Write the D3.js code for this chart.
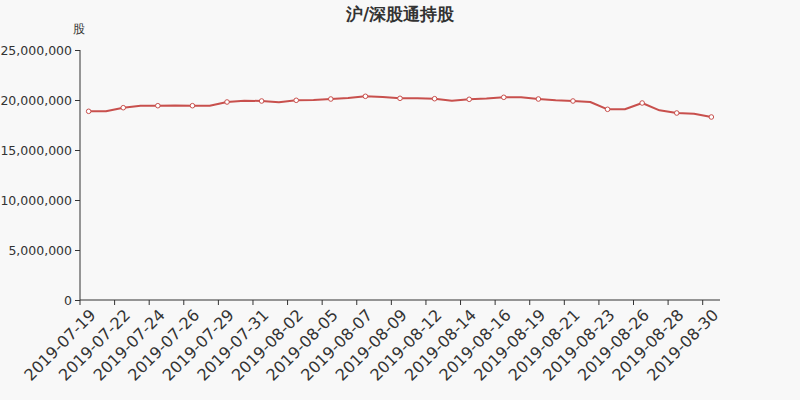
<!DOCTYPE html>
<html><head><meta charset="utf-8">
<script src="https://cdn.jsdelivr.net/npm/d3@7/dist/d3.min.js"></script>
<style>
html,body{margin:0;padding:0;background:#f8f8f8;}
svg{display:block;font-family:"DejaVu Sans",sans-serif;}
</style></head>
<body>
<svg id="chart" width="800" height="400"></svg>
<script>
const title = "沪/深股通持股";
const unitLabel = "股";
const dates = ["2019-07-19","2019-07-20","2019-07-22","2019-07-23","2019-07-24","2019-07-25","2019-07-26","2019-07-27",
"2019-07-29","2019-07-30","2019-07-31","2019-08-01","2019-08-02","2019-08-03","2019-08-05","2019-08-06","2019-08-07","2019-08-08",
"2019-08-09","2019-08-10","2019-08-12","2019-08-13","2019-08-14","2019-08-15","2019-08-16","2019-08-17","2019-08-19","2019-08-20",
"2019-08-21","2019-08-22","2019-08-23","2019-08-24","2019-08-26","2019-08-27","2019-08-28","2019-08-29","2019-08-30"];
const holdings = [18870000,18870000,19230000,19430000,19430000,19450000,19430000,19430000,
19800000,19930000,19900000,19770000,19970000,20000000,20100000,20200000,20370000,20300000,
20170000,20170000,20130000,19930000,20070000,20150000,20270000,20270000,20100000,19970000,
19900000,19800000,19070000,19070000,19700000,18970000,18700000,18630000,18300000];
const yTicks = [0,5000000,10000000,15000000,20000000,25000000];

const svg = d3.select("#chart");
const m = {left:80, right:720, top:50, bottom:300};
const lineColor = "#c8504d";
const axisColor = "#333";

const x = d3.scaleBand().domain(dates).range([m.left, m.right]).paddingInner(0).paddingOuter(0);
const y = d3.scaleLinear().domain([0,25000000]).range([m.bottom, m.top]);

svg.append("text").attr("x",400).attr("y",20).attr("text-anchor","middle")
  .attr("font-size",17).attr("font-weight","bold").attr("fill","#333").text(title);
svg.append("text").attr("x",79).attr("y",33).attr("text-anchor","middle")
  .attr("font-size",12).attr("fill","#333").text(unitLabel);

// y axis
const yAxis = svg.append("g").attr("transform",`translate(${m.left},0)`)
  .call(d3.axisLeft(y).tickValues(yTicks).tickSize(5).tickPadding(3).tickFormat(d3.format(",")));
yAxis.select(".domain").attr("stroke",axisColor).attr("d",`M0,${m.top}V${m.bottom}`);
yAxis.selectAll(".tick line").attr("stroke",axisColor);
yAxis.selectAll(".tick text").attr("font-size",12.5).attr("fill","#333").attr("font-family","DejaVu Sans");

// x axis
const xg = svg.append("g").attr("transform",`translate(0,${m.bottom})`);
xg.append("line").attr("x1",m.left).attr("x2",m.right).attr("stroke",axisColor);
const labelIdx = dates.map((d,i)=>i).filter(i=>i%2===0);
xg.selectAll("line.tk").data(labelIdx).enter().append("line").attr("class","tk")
  .attr("x1",i=>x(dates[i])).attr("x2",i=>x(dates[i])).attr("y1",0).attr("y2",5).attr("stroke",axisColor);
xg.selectAll("text.lb").data(labelIdx).enter().append("text").attr("class","lb")
  .attr("transform",i=>`translate(${x(dates[i])+x.bandwidth()/2},8) rotate(-45)`)
  .attr("text-anchor","end").attr("dy","0.71em")
  .attr("font-size",16).attr("fill","#333").text(i=>dates[i]);

// line
const cx = d => x(d)+x.bandwidth()/2;
const line = d3.line().x((v,i)=>cx(dates[i])).y(v=>y(v));
svg.append("path").datum(holdings).attr("d",line).attr("fill","none")
  .attr("stroke",lineColor).attr("stroke-width",2).attr("stroke-linejoin","round");
svg.selectAll("circle.pt").data(labelIdx).enter().append("circle").attr("class","pt")
  .attr("cx",i=>cx(dates[i])).attr("cy",i=>y(holdings[i])).attr("r",2.3)
  .attr("fill","#fff").attr("stroke",lineColor).attr("stroke-width",1);
</script>
</body></html>
